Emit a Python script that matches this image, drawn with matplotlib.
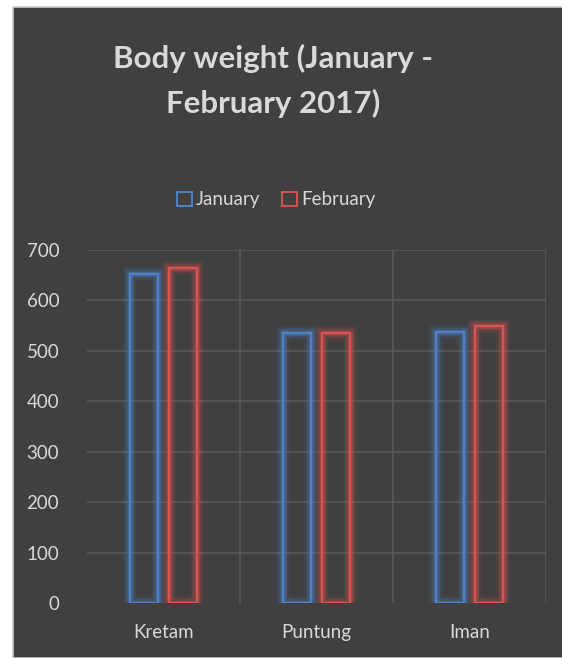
import matplotlib.pyplot as plt
import numpy as np
from matplotlib.patches import Rectangle

plt.rcParams['font.family'] = ['Lato', 'DejaVu Sans']

cows = ['Kretam', 'Puntung', 'Iman']
january = [653, 536, 538]
february = [665, 536, 550]
y_ticks = [0, 100, 200, 300, 400, 500, 600, 700]

bg = '#404040'
text_col = '#d9d9d9'
grid_col = '#595959'
blue = '#4f81c7'
red = '#d9534f'

fig = plt.figure(figsize=(5.62, 6.58), dpi=100, facecolor='white')

# dark chart panel
fig.patches.append(Rectangle((13 / 562, 0), 1, 1 - 7 / 658, transform=fig.transFigure,
                             facecolor=bg, edgecolor='#c8c8c8', linewidth=1.2, zorder=-5))

ax = fig.add_axes([87 / 562, 1 - 603 / 658, (546 - 87) / 562, (603 - 250) / 658])
ax.set_facecolor(bg)
ax.set_zorder(2)

x = np.arange(len(cows))
w = 0.185
off = 0.127


def glow_bars(xs, vals, color):
    # soft halo first, crisp outline on top
    for lw, a in [(10, 0.08), (7.5, 0.12), (5.5, 0.18), (3.6, 0.28)]:
        ax.bar(xs, vals, w, fill=False, edgecolor=color, linewidth=lw, alpha=a, zorder=3)
    ax.bar(xs, vals, w, fill=False, edgecolor=color, linewidth=1.6, zorder=4)


glow_bars(x - off, january, blue)
glow_bars(x + off, february, red)

ax.set_xlim(-0.5, 2.5)
ax.set_ylim(0, 700)
ax.set_yticks(y_ticks)
ax.set_xticks(x)
ax.set_xticklabels(cows)
ax.tick_params(colors=text_col, labelsize=13.5, length=0)
ax.tick_params(axis='y', pad=20)
ax.tick_params(axis='x', pad=15)

for v in y_ticks[1:]:
    ax.axhline(v, color=grid_col, linewidth=1.2, zorder=1)
for xv in [0.5, 1.5, 2.5]:
    ax.axvline(xv, color=grid_col, linewidth=1.2, zorder=1)
for s in ax.spines.values():
    s.set_visible(False)

fig.text(273 / 562, 1 - 58 / 658, 'Body weight (January -', ha='center', va='center',
         fontsize=22.5, fontweight='bold', color=text_col)
fig.text(273 / 562, 1 - 103 / 658, 'February 2017)', ha='center', va='center',
         fontsize=22.5, fontweight='bold', color=text_col)

# legend
handles = [Rectangle((0, 0), 1, 1, fill=False, edgecolor=blue, linewidth=1.4),
           Rectangle((0, 0), 1, 1, fill=False, edgecolor=red, linewidth=1.4)]
leg = fig.legend(handles, ['January', 'February'], loc='center',
                 bbox_to_anchor=(276 / 562, 1 - 200 / 658), ncol=2, frameon=False,
                 fontsize=13.5, handlelength=0.8, handleheight=0.8, handletextpad=0.2,
                 columnspacing=1.2)
for t in leg.get_texts():
    t.set_color(text_col)

fig.savefig('out.png', dpi=100, facecolor='white')
